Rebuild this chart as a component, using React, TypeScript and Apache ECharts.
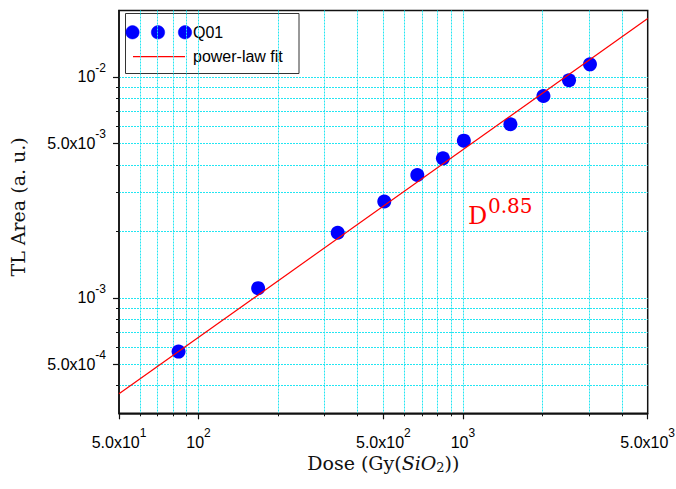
import React, { useEffect, useRef } from "react";
import * as echarts from "echarts";

// Measured data (Dose in Gy(SiO2), TL area in a.u.)
const doses = [84, 168, 336, 504, 672, 840, 1008, 1512, 2016, 2520, 3024];
const tlArea = [5.71e-4, 1.106e-3, 1.97e-3, 2.73e-3, 3.6e-3, 4.28e-3, 5.15e-3, 6.11e-3, 8.2e-3, 9.66e-3, 1.141e-2];

// Power-law fit D^0.85 (end points)
const fitDose = [50, 5000];
const fitArea = [3.68e-4, 1.84e-2];

// Axis ticks
const xLabelValues = [50, 100, 500, 1000, 5000];
const xGridValues = [60, 70, 80, 90, 100, 200, 300, 400, 500, 600, 700, 800, 900, 1000, 2000, 3000, 4000];
const yLabelValues = [5e-4, 1e-3, 5e-3, 1e-2];
const yGridValues = [4e-4, 5e-4, 6e-4, 7e-4, 8e-4, 9e-4, 1e-3, 2e-3, 3e-3, 4e-3, 5e-3, 6e-3, 7e-3, 8e-3, 9e-3, 1e-2];

const SANS = '"Liberation Sans", Arial, sans-serif';
const SERIF = '"DejaVu Serif", serif';

function sciLabel(v: number): string {
  const e = Math.floor(Math.log10(v) + 1e-9);
  const m = v / Math.pow(10, e);
  if (Math.abs(m - 1) < 1e-6) return `10{sup|${e}}`;
  return `${m.toFixed(1)}x10{sup|${e}}`;
}

const labelRich = {
  sup: { fontSize: 12, lineHeight: 12, verticalAlign: "top", fontFamily: SANS, color: "#000" },
};

export default function App() {
  const ref = useRef<HTMLDivElement>(null);
  useEffect(() => {
    document.body.style.margin = "0";
    const chart = echarts.init(ref.current!, null, { renderer: "svg" });
    const gridLine = { show: true, lineStyle: { color: "#22e6f2", width: 1, type: [2, 1] } };
    const axisDark = { show: true, onZero: false, lineStyle: { color: "#111", width: 1.5 } };
    chart.setOption({
      animation: false,
      backgroundColor: "#fff",
      grid: {
        left: 119,
        top: 10.5,
        right: 28.3,
        bottom: 75.7,
        show: true,
        borderColor: "#111",
        borderWidth: 1.5,
        backgroundColor: "transparent",
        containLabel: false,
        outerBoundsMode: "none",
      },
      xAxis: [
        {
          type: "log",
          logBase: 10,
          min: 50,
          max: 5000,
          position: "bottom",
          axisLine: axisDark,
          axisTick: { show: true, inside: false, length: 6, customValues: xLabelValues, lineStyle: { color: "#111", width: 1.2 } },
          axisLabel: {
            customValues: xLabelValues,
            formatter: (v: number) => sciLabel(v),
            fontSize: 16,
            lineHeight: 30,
            fontFamily: SANS,
            color: "#000",
            margin: 14,
            rich: labelRich,
          },
          splitLine: { show: false },
          name: "Dose (Gy({i|SiO}{sub|2}))",
          nameLocation: "middle",
          nameGap: 39,
          nameMoveOverlap: false,
          nameTextStyle: {
            fontFamily: SERIF,
            fontSize: 19,
            lineHeight: 22,
            color: "#111",
            rich: {
              i: { fontFamily: SERIF, fontStyle: "italic", fontSize: 19, lineHeight: 22, color: "#111" },
              sub: { fontFamily: SERIF, fontSize: 13, lineHeight: 13, verticalAlign: "bottom", color: "#111" },
            },
          },
        },
        {
          type: "log",
          logBase: 10,
          min: 50,
          max: 5000,
          position: "bottom",
          gridIndex: 0,
          axisLine: { show: false },
          axisTick: { show: true, inside: false, length: 3, customValues: xGridValues, lineStyle: { color: "#111", width: 1 } },
          axisLabel: { show: false },
          splitLine: gridLine,
        },
      ],
      yAxis: [
        {
          type: "log",
          logBase: 10,
          min: 3e-4,
          max: 2e-2,
          position: "left",
          axisLine: axisDark,
          axisTick: { show: true, inside: false, length: 6, customValues: yLabelValues, lineStyle: { color: "#111", width: 1.2 } },
          axisLabel: {
            customValues: yLabelValues,
            formatter: (v: number) => sciLabel(v),
            fontSize: 16,
            lineHeight: 30,
            fontFamily: SANS,
            color: "#000",
            margin: 13,
            rich: labelRich,
          },
          splitLine: { show: false },
          name: "TL Area (a. u.)",
          nameLocation: "middle",
          nameGap: 92,
          nameMoveOverlap: false,
          nameTextStyle: { fontFamily: SERIF, fontSize: 19, color: "#111", padding: [0, 0, 0, 10] },
        },
        {
          type: "log",
          logBase: 10,
          min: 3e-4,
          max: 2e-2,
          position: "left",
          gridIndex: 0,
          axisLine: { show: false },
          axisTick: { show: true, inside: false, length: 3, customValues: yGridValues, lineStyle: { color: "#111", width: 1 } },
          axisLabel: { show: false },
          splitLine: gridLine,
        },
      ],
      series: [
        {
          name: "Q01",
          type: "scatter",
          xAxisIndex: 0,
          yAxisIndex: 0,
          symbol: "circle",
          symbolSize: 14,
          itemStyle: { color: "#0000ff", opacity: 1 },
          data: doses.map((d, i) => [d, tlArea[i]]),
          z: 3,
        },
        {
          name: "power-law fit",
          type: "line",
          xAxisIndex: 0,
          yAxisIndex: 0,
          symbol: "none",
          lineStyle: { color: "#ff0000", width: 1.2 },
          data: fitDose.map((d, i) => [d, fitArea[i]]),
          z: 4,
        },
      ],
      graphic: [
        {
          type: "group",
          z: 100,
          children: [
            {
              type: "rect",
              shape: { x: 125.5, y: 13.5, width: 173.5, height: 60 },
              style: { fill: "#fff", stroke: "#333", lineWidth: 1 },
            },
            { type: "circle", shape: { cx: 132.5, cy: 32.3, r: 6.7 }, style: { fill: "#0000ff", stroke: "#0000ff", lineWidth: 0.5 } },
            { type: "circle", shape: { cx: 158, cy: 32.3, r: 6.7 }, style: { fill: "#0000ff", stroke: "#0000ff", lineWidth: 0.5 } },
            { type: "circle", shape: { cx: 185, cy: 32.3, r: 6.7 }, style: { fill: "#0000ff", stroke: "#0000ff", lineWidth: 0.5 } },
            {
              type: "text",
              x: 193,
              y: 32.3,
              style: { text: "Q01", font: `16px ${SANS}`, fill: "#000", verticalAlign: "middle", align: "left" },
            },
            {
              type: "line",
              shape: { x1: 133, y1: 56.7, x2: 185, y2: 56.7 },
              style: { stroke: "#ff0000", lineWidth: 1.2 },
            },
            {
              type: "text",
              x: 193,
              y: 56.7,
              style: { text: "power-law fit", font: `16px ${SANS}`, fill: "#000", verticalAlign: "middle", align: "left" },
            },
          ],
        },
        {
          type: "text",
          z: 100,
          x: 468,
          y: 216,
          style: { text: "D", font: `24px ${SERIF}`, fill: "#ff0000", verticalAlign: "middle", align: "left" },
        },
        {
          type: "text",
          z: 100,
          x: 488,
          y: 206,
          style: { text: "0.85", font: `20px ${SERIF}`, fill: "#ff0000", verticalAlign: "middle", align: "left" },
        },
      ],
    });
    return () => chart.dispose();
  }, []);
  return <div ref={ref} style={{ width: 676, height: 489 }} />;
}
